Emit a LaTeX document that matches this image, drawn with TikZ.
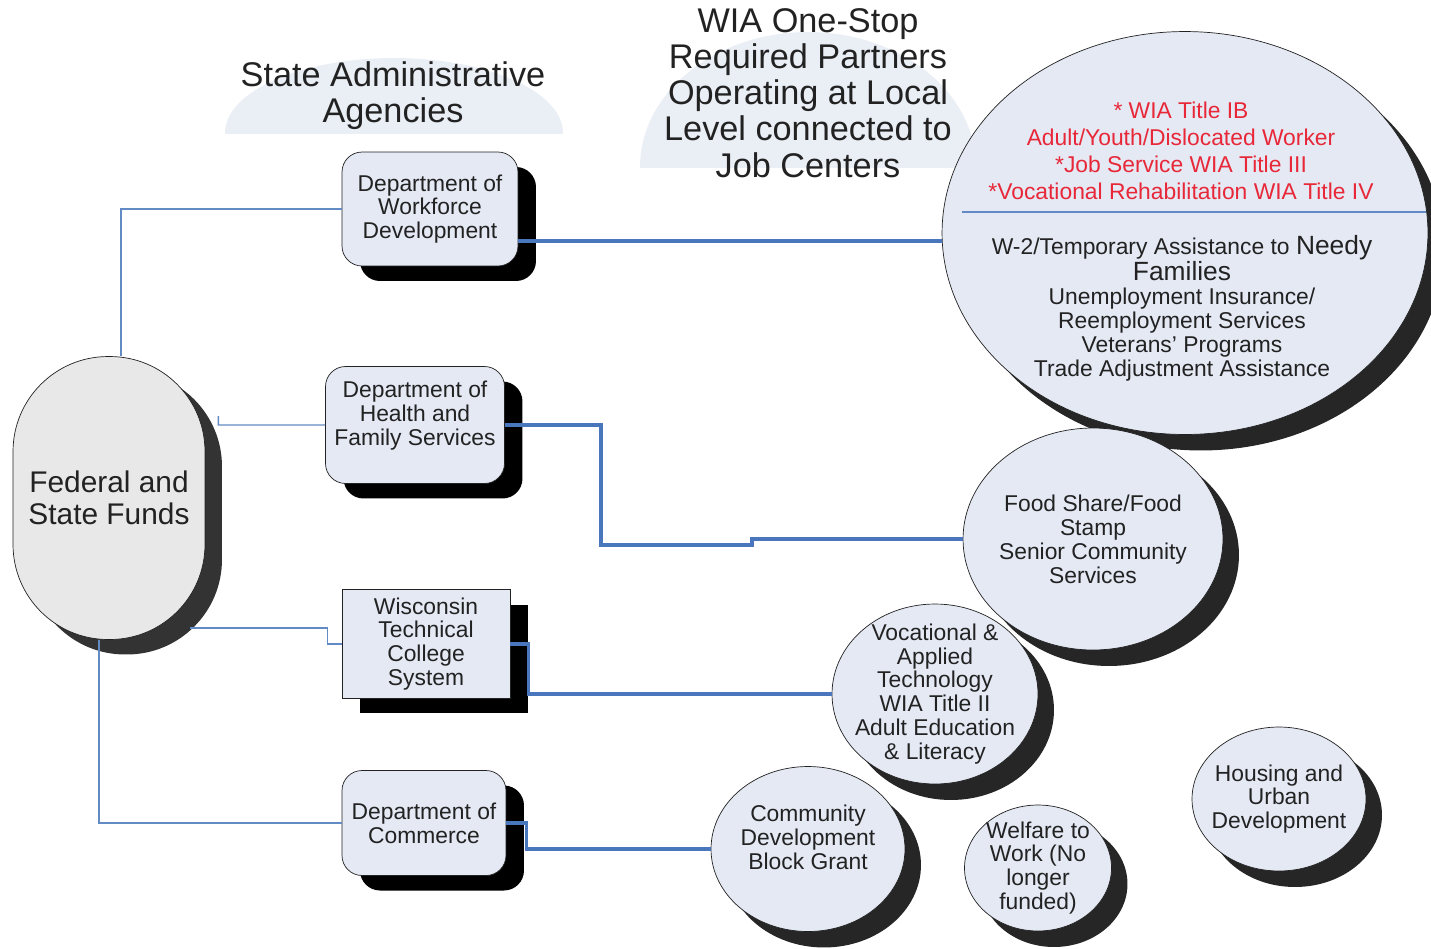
\documentclass[tikz,border=0pt]{standalone}
\usepackage{fontspec}
\setmainfont{Liberation Sans}
\usetikzlibrary{positioning,calc,shadows,shapes.geometric}
\definecolor{PaleBlue}{RGB}{228,233,244}
\definecolor{PaleGrey}{RGB}{232,232,232}
\definecolor{HeadBand}{RGB}{234,238,245}
\definecolor{LinkBlue}{RGB}{74,118,190}
\definecolor{ThinBlue}{RGB}{98,138,196}
\definecolor{TitleRed}{RGB}{232,40,56}
\definecolor{InkGrey}{RGB}{34,34,34}
\tikzset{
  heading/.style={align=center,text=InkGrey,font=\fontsize{19.5}{20.6}\selectfont},
  funds/.style={draw=InkGrey,fill=PaleGrey,rounded corners=1.9cm,align=center,
    inner sep=0pt,text=InkGrey,font=\fontsize{17}{18}\selectfont,
    drop shadow={fill=black!80,opacity=1,shadow xshift=0.34cm,shadow yshift=-0.3cm}},
  agency/.style={draw=InkGrey,fill=PaleBlue,rounded corners=0.4cm,align=center,
    inner sep=0pt,text=InkGrey,font=\fontsize{13}{13.6}\selectfont,
    drop shadow={fill=black,opacity=1,shadow xshift=0.36cm,shadow yshift=-0.3cm}},
  partner/.style={ellipse,draw=InkGrey,fill=PaleBlue,inner sep=0pt,
    drop shadow={fill=black!85,opacity=1,shadow xshift=0.32cm,shadow yshift=-0.32cm}},
  blurb/.style={align=center,text=InkGrey,font=\fontsize{13}{13.6}\selectfont},
  redblurb/.style={align=center,text=TitleRed,font=\fontsize{13}{15.3}\selectfont},
  thinlink/.style={draw=ThinBlue,line width=0.8pt},
  link/.style={draw=LinkBlue,line width=1.9pt},
  divider/.style={draw=ThinBlue,line width=0.7pt}
}

\begin{document}
\begin{tikzpicture}[x=0.02cm,y=-0.02cm]
  \useasboundingbox (0,0) rectangle (1431,948);
  \clip (0,0) rectangle (1431,948);

  % pale bands behind the two column titles
  \begin{scope}
    \clip (225,0) rectangle (563,133);
    \fill[HeadBand] (394,133) ellipse [x radius=3.38cm,y radius=1.5cm];
  \end{scope}
  \begin{scope}
    \clip (640,0) rectangle (976,167);
    \fill[HeadBand] (808,167) ellipse [x radius=3.36cm,y radius=2.7cm];
  \end{scope}
  \node[heading] (agencies-head) at (393,96) {State Administrative\\Agencies};
  \node[heading] (partners-head) at (808,93) {WIA One-Stop\\Required Partners\\Operating at Local\\Level connected to\\Job Centers};

  % source of money
  \node[funds,minimum width=3.84cm,minimum height=5.66cm] (funds) at (109,498) {Federal and\\State Funds};

  % state agencies
  \node[agency,minimum width=3.52cm,minimum height=2.28cm] (dwd) at (430,209) {Department of\\Workforce\\Development};
  \node[agency,minimum width=3.58cm,minimum height=2.34cm] (dhfs) at (415,425) {Department of\\Health and\\Family Services\\~};
  \node[agency,sharp corners,minimum width=3.36cm,minimum height=2.18cm] (wtcs) at (426,644) {Wisconsin\\Technical\\College\\System};
  \node[agency,minimum width=3.28cm,minimum height=2.1cm] (commerce) at (424,823) {Department of\\Commerce};

  % one-stop partners
  \node[partner,minimum width=9.72cm,minimum height=8.06cm] (partners) at (1185,233) {};
  \node[redblurb] (titles) at (1181,151) {* WIA Title IB\\Adult/Youth/Dislocated Worker\\*Job Service WIA Title III\\*Vocational Rehabilitation WIA Title IV};
  \draw[divider] (962,212) -- (1426,212);
  \node[blurb] (services) at (1182,308) {W-2/Temporary Assistance to {\fontsize{15}{16}\selectfont Needy}\\{\fontsize{15}{16}\selectfont Families}\\Unemployment Insurance/\\Reemployment Services\\Veterans’ Programs\\Trade Adjustment Assistance};

  \node[partner,minimum width=5.2cm,minimum height=4.44cm] (food) at (1093,539) {};
  \node[blurb] (food-text) at (food) {Food Share/Food\\Stamp\\Senior Community\\Services};

  \node[partner,minimum width=4.12cm,minimum height=3.6cm] (voc) at (935,694) {};
  \node[blurb] (voc-text) at (voc) {Vocational \&\\Applied\\Technology\\WIA Title II\\Adult Education\\\& Literacy};

  \node[partner,minimum width=3.88cm,minimum height=3.3cm] (cdbg) at (808,849) {};
  \node[blurb] (cdbg-text) at (cdbg) {Community\\Development\\Block Grant\\~};

  \node[partner,minimum width=2.94cm,minimum height=2.52cm] (w2w) at (1038,868) {};
  \node[blurb] (w2w-text) at (w2w) {Welfare to\\Work (No\\longer\\funded)};

  \node[partner,minimum width=3.48cm,minimum height=2.88cm] (hud) at (1279,799) {};
  \node[blurb] (hud-text) at (hud) {Housing and\\Urban\\Development};

  % funding lines to the agencies
  \coordinate (tap) at ([xshift=0.26cm,yshift=1.46cm]funds.east);
  \draw[thinlink] ([xshift=0.24cm]funds.north) |- (dwd.west);
  \draw[thinlink] ([yshift=0.18cm]tap) -- (tap) -- (dhfs.west);
  \draw[thinlink] ([xshift=-0.3cm,yshift=-2.6cm]funds.east) -| ([xshift=-0.28cm]wtcs.west) -- (wtcs.west);
  \draw[thinlink] ([xshift=-0.2cm]funds.south) |- (commerce.west);

  % agencies to local partners
  \coordinate (dwd-out) at ([yshift=-0.64cm]dwd.east);
  \draw[link] (dwd-out) -- (dwd-out -| partners.west);
  \draw[link] (dhfs.east) -- ++(96,0) -- ++(0,120) -- ++(151,0) |- (food.west);
  \draw[link] (wtcs.east) -- ++(18,0) |- (voc.west);
  \draw[link] (commerce.east) -- ++(20,0) |- (cdbg.west);
\end{tikzpicture}
\end{document}
